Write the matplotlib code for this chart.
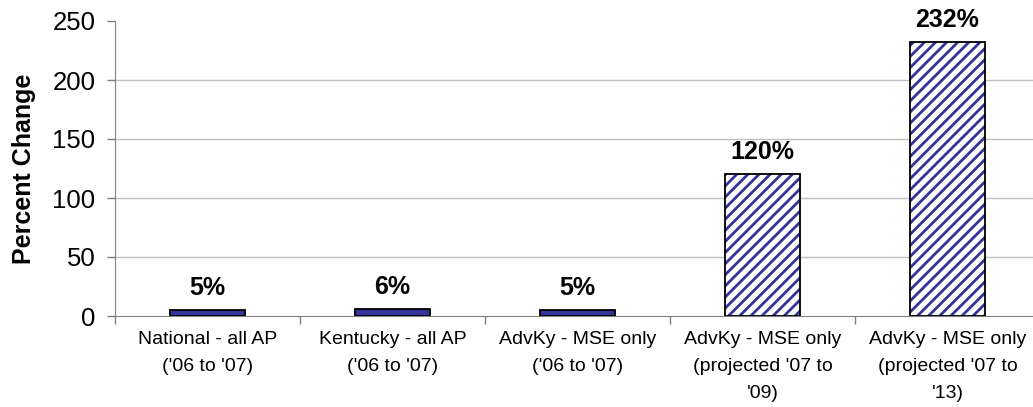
import numpy as np
import matplotlib.pyplot as plt

plt.rcParams['font.family'] = ['Liberation Sans', 'DejaVu Sans']
plt.rcParams['hatch.linewidth'] = 2.0

categories = [
    "National - all AP\n('06 to '07)",
    "Kentucky - all AP\n('06 to '07)",
    "AdvKy - MSE only\n('06 to '07)",
    "AdvKy - MSE only\n(projected '07 to\n'09)",
    "AdvKy - MSE only\n(projected '07 to\n'13)",
]
values = [5, 6, 5, 120, 232]
value_labels = ["5%", "6%", "5%", "120%", "232%"]
projected = [False, False, False, True, True]

navy = "#333399"

fig = plt.figure(figsize=(10.33, 4.07), dpi=100)
ax = fig.add_axes([115 / 1033, 91 / 407, 925 / 1033, 295 / 407])

x = np.arange(len(categories))
w = 0.41
for xi, v, proj in zip(x, values, projected):
    if proj:
        # hatch in navy on white, then a black outline on top
        ax.bar(xi, v, w, color="white", edgecolor=navy, hatch="///", linewidth=0, zorder=2)
        ax.bar(xi, v, w, fill=False, edgecolor="black", linewidth=1.3, zorder=3)
    else:
        ax.bar(xi, v, w, color=navy, edgecolor="black", linewidth=1.3, zorder=2)

for xi, v, lab in zip(x, values, value_labels):
    ax.annotate(lab, (xi, v), xytext=(0, 16), textcoords="offset points",
                ha="center", va="center", fontsize=18, fontweight="bold")

ax.set_xlim(-0.5, len(categories) - 0.5)
ax.set_ylim(0, 250)
ax.set_yticks(np.arange(0, 251, 50))
ax.tick_params(axis="y", labelsize=18.5, length=6, width=1, color="#808080", pad=8)
for yv in [50, 100, 150, 200]:
    ax.axhline(yv, color="#c0c0c0", linewidth=1, zorder=0)

ax.set_xticks(x)
ax.set_xticklabels(categories, fontsize=14, linespacing=1.75)
ax.tick_params(axis="x", which="major", length=0, pad=11)
ax.set_xticks(np.arange(-0.5, len(categories)), minor=True)
ax.tick_params(axis="x", which="minor", length=6, width=1, color="#808080")

ax.set_ylabel("Percent Change", fontsize=18, fontweight="bold", labelpad=12)

for s in ["top", "right"]:
    ax.spines[s].set_visible(False)
ax.spines["left"].set_color("#808080")
ax.spines["bottom"].set_color("#808080")

fig.savefig("out.png", dpi=100)
